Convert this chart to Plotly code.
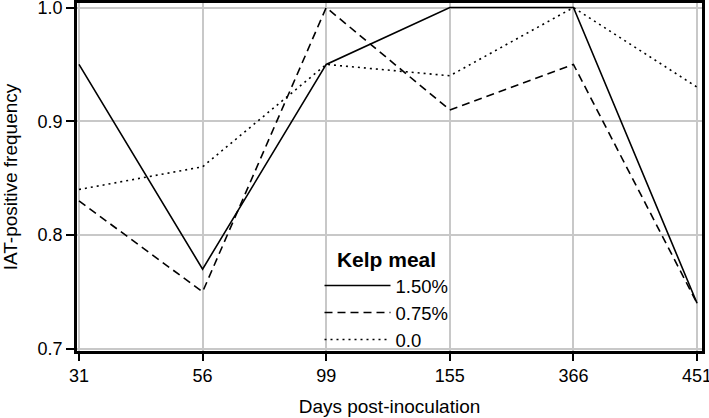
import plotly.graph_objects as go

days = ["31", "56", "99", "155", "366", "451"]
kelp_150 = [0.95, 0.77, 0.95, 1.00, 1.00, 0.74]
kelp_075 = [0.83, 0.75, 1.00, 0.91, 0.95, 0.74]
kelp_000 = [0.84, 0.86, 0.95, 0.94, 1.00, 0.93]
series_names = ["1.50%", "0.75%", "0.0"]
y_ticks = [0.7, 0.8, 0.9, 1.0]
y_tick_labels = ["0.7", "0.8", "0.9", "1.0"]

FONT = "Liberation Sans, Arial, sans-serif"

fig = go.Figure()
styles = ["solid", "8px,5px", "2px,4px"]
for name, vals, dash in zip(series_names, [kelp_150, kelp_075, kelp_000], styles):
    fig.add_trace(go.Scatter(
        x=list(range(len(days))), y=vals, mode="lines", name=name,
        line=dict(color="black", width=1.6, dash=dash),
    ))

fig.update_layout(
    width=709, height=418,
    margin=dict(l=77, r=7, t=3, b=67),
    paper_bgcolor="white", plot_bgcolor="white",
    font=dict(family=FONT, color="black", size=18),
    legend=dict(
        title=dict(text="<b>Kelp meal</b>", font=dict(size=21), side="top center"),
        font=dict(size=18.5),
        x=0.388, y=0.32, xanchor="left", yanchor="top",
        bgcolor="rgba(0,0,0,0)",
        itemwidth=66, tracegroupgap=0,
    ),
)
fig.update_xaxes(
    tickmode="array", tickvals=list(range(len(days))), ticktext=days,
    range=[-0.016, 5.04],
    showgrid=True, gridcolor="#c8c8c8", gridwidth=1.5,
    showline=True, linecolor="black", linewidth=2.5, mirror=True,
    ticks="outside", ticklen=7, tickwidth=1.5, tickcolor="black",
    tickfont=dict(size=18), ticklabeloverflow="allow",
    title=dict(text="Days post-inoculation", font=dict(size=19), standoff=15),
    zeroline=False, automargin=False,
)
fig.update_yaxes(
    tickmode="array", tickvals=y_ticks, ticktext=y_tick_labels,
    range=[0.698, 1.004],
    showgrid=True, gridcolor="#c8c8c8", gridwidth=1.5,
    showline=True, linecolor="black", linewidth=2.5, mirror=True,
    ticks="outside", ticklen=8, tickwidth=1.5, tickcolor="black",
    tickfont=dict(size=18), ticklabeloverflow="allow",
    title=dict(text="IAT-positive frequency", font=dict(size=19), standoff=18),
    zeroline=False, automargin=False,
)

fig.write_html("out.html", config={"displayModeBar": False},
               post_script="document.body.style.margin='0';")
